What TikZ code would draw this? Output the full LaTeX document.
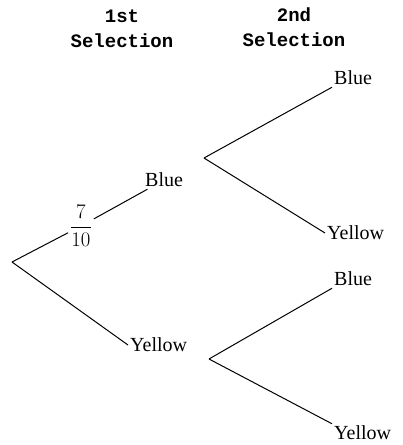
\documentclass[tikz,border=0pt]{standalone}
\usepackage{fontspec}
\setmainfont{Liberation Serif}
\newfontfamily\headfont{Liberation Mono}
\usepackage{tikz}
\usetikzlibrary{positioning}

\begin{document}
\begin{tikzpicture}[x=1pt, y=-1pt,
		every node/.style={inner sep=2pt, font=\fontsize{20}{22}\selectfont},
		leaf/.style={anchor=west},
		head/.style={align=center, font=\fontsize{19}{25}\selectfont\headfont\bfseries},
		branch/.style={line width=1pt}]
	\useasboundingbox (0,0) rectangle (403,445);
	% headers
	\node (h1) [head] at (122,29) {1st\\Selection};
	\node (h2) [head] at (294,27) {2nd\\Selection};
	% tree
	\coordinate (root) at (12,262);
	\node (frac) [font=\fontsize{20}{22}\selectfont] at (81,226) {$\displaystyle\frac{7}{10}$};
	\node (b1) [leaf] at (143,180) {Blue};
	\node (y1) [leaf] at (128,345) {Yellow};
	\coordinate (b1r) at (204,158);
	\coordinate (y1r) at (209,359);
	\node (bb) [leaf] at (332,78) {Blue};
	\node (by) [leaf] at (325,233) {Yellow};
	\node (yb) [leaf] at (332,279) {Blue};
	\node (yy) [leaf] at (332,433) {Yellow};
	\draw [branch] (root) -- (frac) -- (b1);
	\draw [branch] (root) -- (y1.west);
	\draw [branch] (b1r) -- (bb.south west);
	\draw [branch] (b1r) -- (by.west);
	\draw [branch] (y1r) -- (yb.south west);
	\draw [branch] (y1r) -- (yy.north west);
\end{tikzpicture}
\end{document}
